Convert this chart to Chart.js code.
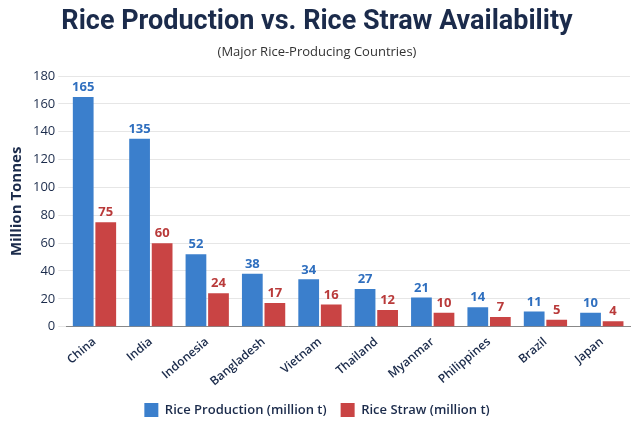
<!DOCTYPE html>
<html>
<head>
<meta charset="utf-8">
<script src="https://cdn.jsdelivr.net/npm/chart.js@4"></script>
<style>
  html, body { margin: 0; padding: 0; background: #fff; }
  #wrap { width: 640px; height: 427px; }
</style>
</head>
<body>
<div id="wrap"><canvas id="c" width="640" height="427"></canvas></div>
<script>
// ── Data ─────────────────────────────────────────────
const countries  = ['China', 'India', 'Indonesia', 'Bangladesh', 'Vietnam', 'Thailand', 'Myanmar', 'Philippines', 'Brazil', 'Japan'];
const production = [165, 135, 52, 38, 34, 27, 21, 14, 11, 10];
const straw      = [75, 60, 24, 17, 16, 12, 10, 7, 5, 4];

const BLUE = '#3b7fcc';
const RED  = '#c94444';

// draws the value above each bar in the bar's colour
const valueLabels = {
  id: 'valueLabels',
  afterDatasetsDraw(chart) {
    const ctx = chart.ctx;
    ctx.save();
    ctx.font = 'bold 13px "Open Sans", sans-serif';
    ctx.textAlign = 'center';
    ctx.textBaseline = 'bottom';
    chart.data.datasets.forEach((ds, i) => {
      ctx.fillStyle = i === 0 ? '#2f6fbf' : '#b93a3a';
      chart.getDatasetMeta(i).data.forEach((bar, j) => {
        ctx.fillText(ds.data[j], bar.x, bar.y - 3);
      });
    });
    ctx.restore();
  },
};

new Chart(document.getElementById('c'), {
  type: 'bar',
  data: {
    labels: countries,
    datasets: [
      { label: 'Rice Production (million t)', data: production, backgroundColor: BLUE,
        categoryPercentage: 0.8, barPercentage: 0.92 },
      { label: 'Rice Straw (million t)', data: straw, backgroundColor: RED,
        categoryPercentage: 0.8, barPercentage: 0.92 },
    ],
  },
  options: {
    responsive: false,
    animation: false,
    layout: { padding: { left: 4, right: 10, bottom: 0 } },
    plugins: {
      title: {
        display: true, text: 'Rice Production vs. Rice Straw Availability',
        color: '#1b2b4b', font: { size: 27, weight: 'bold', family: 'Roboto' },
        padding: { top: 6, bottom: 6 },
      },
      subtitle: {
        display: true, text: '(Major Rice-Producing Countries)',
        color: '#333', font: { size: 13, family: 'Open Sans' },
        padding: { bottom: 16 },
      },
      legend: {
        position: 'bottom',
        labels: { boxWidth: 14, boxHeight: 14, padding: 14, color: '#1b2b4b',
                  font: { size: 13, weight: '600', family: 'Open Sans' } },
      },
      tooltip: { enabled: false },
    },
    scales: {
      x: {
        grid: { display: false },
        border: { color: '#888' },
        ticks: { color: '#1b2b4b', maxRotation: 40, minRotation: 40, padding: 0,
                 font: { size: 12, weight: '600', family: 'Open Sans' } },
      },
      y: {
        min: 0, max: 180,
        ticks: { stepSize: 20, color: '#1b2b4b', font: { size: 13, family: 'Open Sans' } },
        grid: { color: '#e6e6e6' },
        border: { display: false },
        title: { display: true, text: 'Million Tonnes', color: '#1b2b4b',
                 font: { size: 15, weight: 'bold', family: 'Open Sans' } },
      },
    },
  },
  plugins: [valueLabels],
});
</script>
</body>
</html>
